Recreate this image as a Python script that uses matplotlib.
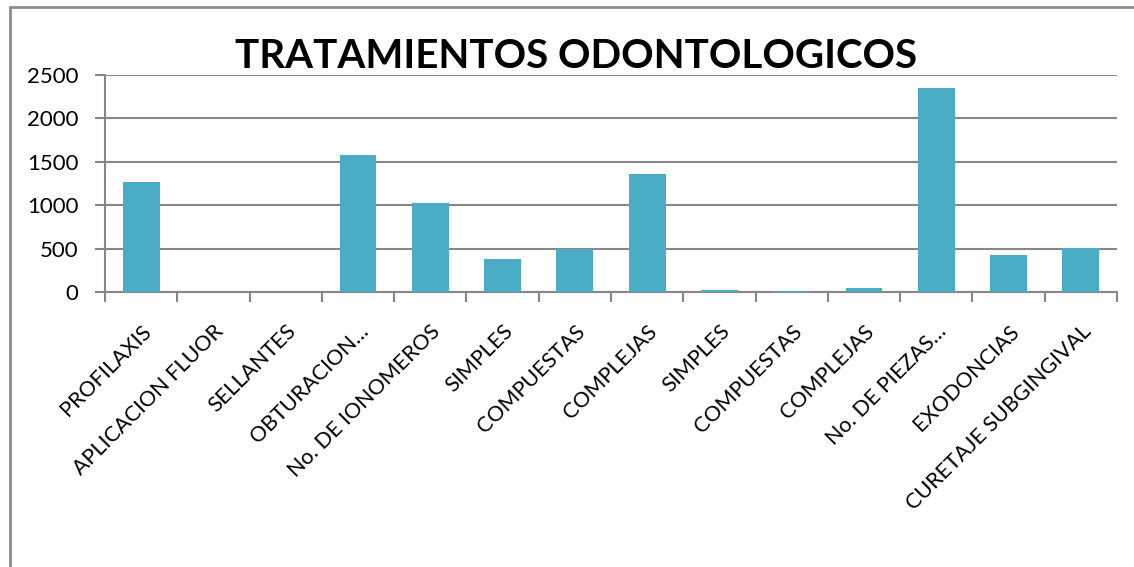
import matplotlib
matplotlib.use("Agg")
import matplotlib.pyplot as plt
import matplotlib.transforms as mtransforms
from matplotlib.patches import Rectangle
import numpy as np

categories = ["PROFILAXIS", "APLICACION FLUOR", "SELLANTES", "OBTURACION…",
              "No. DE IONOMEROS", "SIMPLES", "COMPUESTAS", "COMPLEJAS",
              "SIMPLES", "COMPUESTAS", "COMPLEJAS", "No. DE PIEZAS…",
              "EXODONCIAS", "CURETAJE SUBGINGIVAL"]
values = [1265, 0, 0, 1575, 1030, 380, 500, 1360, 20, 15, 43, 2355, 430, 510]
y_ticks = [0, 500, 1000, 1500, 2000, 2500]

bar_color = "#4BACC6"
grid_gray = "#878787"

plt.rcParams["font.family"] = ["Lato", "DejaVu Sans"]

fig = plt.figure(figsize=(11.34, 5.67), dpi=100)
ax = fig.add_axes([105/1134, 1 - 292/567, (1117 - 105)/1134, (292 - 75)/567])

x = np.arange(len(categories))
ax.bar(x, values, width=0.51, color=bar_color, zorder=3)

ax.set_xlim(-0.5, len(categories) - 0.5)
ax.set_ylim(0, 2500)
ax.set_yticks(y_ticks)
ax.yaxis.grid(True, color=grid_gray, linewidth=1.5, zorder=0)
ax.tick_params(axis="y", length=7, width=1.5, color=grid_gray, labelsize=16, pad=12)

# category labels at the centres, tick marks between categories
ax.set_xticks(x)
ax.set_xticklabels(categories, rotation=45, ha="right", rotation_mode="anchor", fontsize=15.5)
ax.set_xticks(np.arange(len(categories) + 1) - 0.5, minor=True)
ax.tick_params(axis="x", which="major", length=0, pad=14)
ax.tick_params(axis="x", which="minor", length=7, width=1.5, color=grid_gray)
offset = mtransforms.ScaledTranslation(0/72, -7/72, fig.dpi_scale_trans)
for lbl in ax.get_xticklabels():
    lbl.set_transform(lbl.get_transform() + offset)

for side in ["top", "right"]:
    ax.spines[side].set_visible(False)
for side in ["left", "bottom"]:
    ax.spines[side].set_color(grid_gray)
    ax.spines[side].set_linewidth(1.5)

fig.text(576/1134, 1 - 57/567, "TRATAMIENTOS ODONTOLOGICOS", ha="center", va="center",
         fontsize=29, fontweight="bold")

# chart frame
fig.patches.append(Rectangle((10/1134, -0.1), 1.2, 1 - 7/567 + 0.1, transform=fig.transFigure,
                             fill=False, edgecolor="#8c8c8c", linewidth=2))

fig.savefig("out.png", dpi=100)
